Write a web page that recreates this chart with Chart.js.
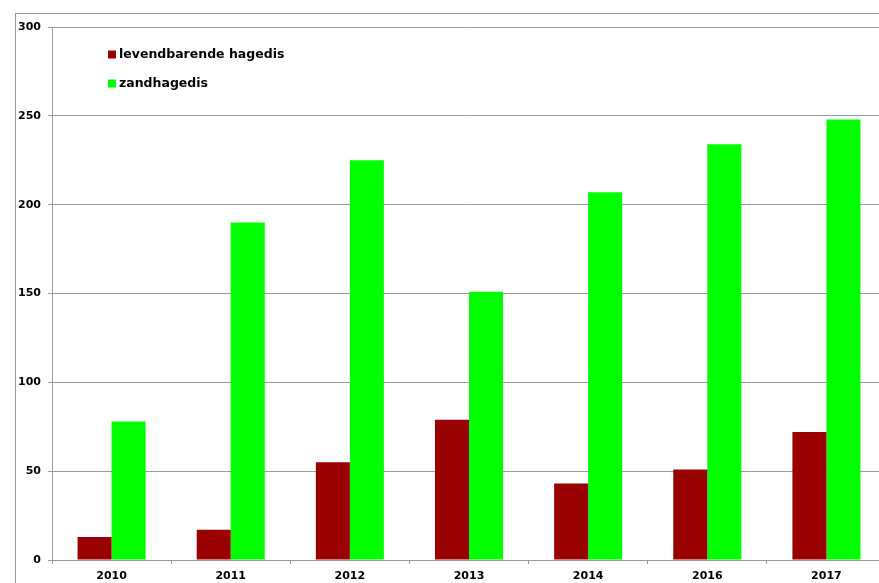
<!DOCTYPE html>
<html>
<head>
<meta charset="utf-8">
<script src="https://cdn.jsdelivr.net/npm/chart.js@4"></script>
<style>
    html, body { margin: 0; padding: 0; background: #fff; overflow: hidden; }
    #frame { position: absolute; left: 15px; top: 13px; width: 2000px; height: 2000px; border: 1px solid #999; }
    #wrap { position: absolute; left: 0; top: 0; }
</style>
</head>
<body>
<div id="frame"></div>
<div id="wrap"><canvas id="hagedisChart" width="900" height="600"></canvas></div>
<script>
const years = ['2010', '2011', '2012', '2013', '2014', '2016', '2017'];
const levendbarend = [13, 17, 55, 79, 43, 51, 72];
const zandhagedis = [78, 190, 225, 151, 207, 234, 248];
const seriesNames = ['levendbarende hagedis', 'zandhagedis'];
const seriesColors = ['#990000', '#00ff00'];

const FONT = 'DejaVu Sans';
const GRID = '#9a9a9a';

// legend sits inside the plot, top left
const legendInside = {
    id: 'legendInside',
    afterDraw(chart) {
        const ctx = chart.ctx;
        ctx.save();
        ctx.font = 'bold 12.5px "' + FONT + '"';
        ctx.textBaseline = 'middle';
        chart.data.datasets.forEach((ds, i) => {
            const y = 54.5 + i * 29;
            ctx.fillStyle = ds.backgroundColor;
            ctx.fillRect(108, y - 4, 8, 8);
            ctx.fillStyle = '#000';
            ctx.fillText(ds.label, 119, y);
        });
        ctx.restore();
    }
};

let ctx = document.getElementById('hagedisChart').getContext('2d');
new Chart(ctx, {
    type: 'bar',
    plugins: [legendInside],
    data: {
        labels: years,
        datasets: [
            { label: seriesNames[0], data: levendbarend, backgroundColor: seriesColors[0] },
            { label: seriesNames[1], data: zandhagedis, backgroundColor: seriesColors[1] }
        ]
    },
    options: {
        responsive: false,
        devicePixelRatio: 1,
        animation: false,
        layout: { padding: { left: 0, top: 27, right: 14, bottom: 0 } },
        datasets: {
            bar: { categoryPercentage: 0.571, barPercentage: 1.0 }
        },
        scales: {
            x: {
                offset: true,
                grid: { offset: true, drawOnChartArea: false, drawTicks: true, tickLength: 4, color: GRID },
                border: { color: GRID },
                ticks: { color: '#000', font: { family: FONT, size: 11, weight: 'bold' }, padding: 6, maxRotation: 0 },
                afterFit(scale) { scale.height = 40; }
            },
            y: {
                min: 0,
                max: 300,
                ticks: { stepSize: 50, color: '#000', font: { family: FONT, size: 11, weight: 'bold' }, padding: 7 },
                grid: { color: GRID, tickLength: 4 },
                border: { color: GRID },
                afterFit(scale) { scale.width = 52; }
            }
        },
        plugins: {
            legend: { display: false },
            tooltip: { enabled: false }
        }
    }
});
</script>
</body>
</html>
